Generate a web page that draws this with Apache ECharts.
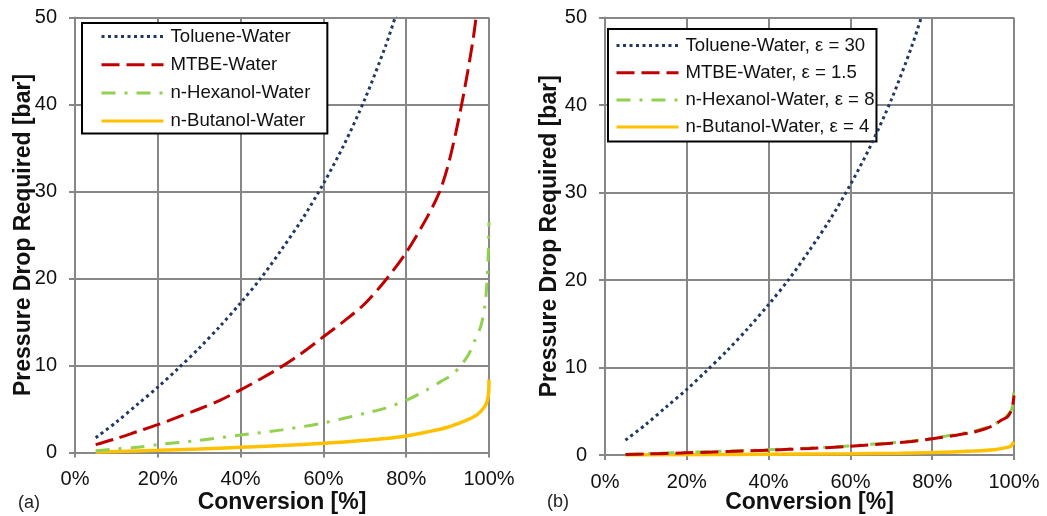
<!DOCTYPE html>
<html><head><meta charset="utf-8">
<script src="https://cdn.jsdelivr.net/npm/echarts@6/dist/echarts.min.js"></script>
<style>html,body{margin:0;padding:0;background:#fff}#c{width:1047px;height:516px}</style>
</head><body><div id="c"></div>
<script>
// ---- data (conversion in %, pressure drop in bar) ----
const xTickLabels = ['0%','20%','40%','60%','80%','100%'];
const yTickLabels = ['0','10','20','30','40','50'];

const namesA = ['Toluene-Water','MTBE-Water','n-Hexanol-Water','n-Butanol-Water'];
const namesB = ['Toluene-Water, \u03b5 = 30','MTBE-Water, \u03b5 = 1.5','n-Hexanol-Water, \u03b5 = 8','n-Butanol-Water, \u03b5 = 4'];

// panel (a)
const tolA_x = [5,10,15,20,25,30,35,40,45,50,55,60,65,70,75,78];
const tolA_y = [1.7,3.5,5.5,7.5,9.7,12.0,14.5,17.2,20.1,23.4,26.9,30.9,35.4,40.6,46.7,51.0];
const mtbeA_x = [5,10,15,20,25,30,35,40,45,50,55,60,65,70,75,80,85,88,90,92,94,96,97,98];
const mtbeA_y = [0.9,1.6,2.4,3.2,4.1,5.0,6.0,7.2,8.5,9.9,11.5,13.3,15.1,17.1,19.8,23.0,27.0,29.9,32.8,36.8,41.5,47.0,50.5,55.0];
const hexA_x = [5,10,15,20,30,40,50,60,70,75,80,85,88.5,91,93,95,96.5,98,99,99.5,99.8,100];
const hexA_y = [0.2,0.4,0.6,0.9,1.4,2.0,2.6,3.4,4.5,5.1,6.0,7.2,8.2,8.9,9.9,11.2,12.8,14.5,16.8,19.5,22.5,26.5];
const butA_x = [5,10,20,30,40,50,60,70,75,80,85,90,94,97,99,99.8,100];
const butA_y = [0.05,0.12,0.25,0.4,0.6,0.8,1.05,1.4,1.6,1.9,2.35,2.9,3.6,4.3,5.3,6.4,8.4];

// panel (b)
const tolB_x = [5,10,15,20,25,30,35,40,45,50,55,60,65,70,75,78];
const tolB_y = [1.7,3.5,5.5,7.5,9.7,12.0,14.5,17.2,20.1,23.4,26.9,30.9,35.4,40.6,46.7,51.0];
const mtbeB_x = [5,10,20,30,40,50,60,70,75,80,85,90,93,95,97,98.5,99.5,100];
const mtbeB_y = [0.05,0.12,0.25,0.4,0.55,0.75,1.0,1.35,1.55,1.85,2.2,2.6,3.0,3.4,4.0,4.4,5.3,6.8];
const hexB_x = [5,10,20,30,40,50,60,70,75,80,85,90,93,95,97,98.5,99.5,100];
const hexB_y = [0.05,0.15,0.3,0.45,0.6,0.8,1.05,1.4,1.6,1.9,2.3,2.7,3.1,3.5,4.0,4.6,5.3,7.8];
const butB_x = [5,20,40,60,72,80,90,95,99,100];
const butB_y = [0.0,0.03,0.08,0.13,0.2,0.28,0.45,0.6,0.95,1.5];

// ---- styling ----
const FONT = 'Liberation Sans, Arial, sans-serif';
const GRIDC = '#878787';
const styles = [
  {color:'#203864', type:[3,3.5], width:3},
  {color:'#C00000', type:[18,7], width:3},
  {color:'#92D050', type:[14,9,3,9], width:3},
  {color:'#FFC000', type:'solid', width:3.5}
];
const zip = (xs, ys) => xs.map((x, i) => [x, ys[i]]);

function xAxisFor(gi, gap){
  return {
    type:'value', gridIndex:gi, min:0, max:100, interval:20,
    axisLine:{show:true, lineStyle:{color:GRIDC, width:2}},
    axisTick:{show:true, length:5, lineStyle:{color:GRIDC, width:2}},
    splitLine:{show:true, lineStyle:{color:GRIDC, width:2}},
    axisLabel:{margin:17, color:'#111', fontSize:20, fontFamily:FONT,
      formatter:(v)=>xTickLabels[Math.round(v/20)]},
    name:'Conversion [%]', nameLocation:'middle', nameGap:gap, nameMoveOverlap:false,
    nameTextStyle:{fontSize:23, fontWeight:'bold', color:'#111', fontFamily:FONT}
  };
}
function yAxisFor(gi, gap){
  return {
    type:'value', gridIndex:gi, min:0, max:50, interval:10,
    axisLine:{show:true, lineStyle:{color:GRIDC, width:2}},
    axisTick:{show:true, length:6, lineStyle:{color:GRIDC, width:2}},
    splitLine:{show:true, lineStyle:{color:GRIDC, width:2}},
    axisLabel:{margin:18, color:'#111', fontSize:20, fontFamily:FONT,
      formatter:(v)=>yTickLabels[Math.round(v/10)]},
    name:'Pressure Drop Required [bar]', nameLocation:'middle', nameGap:gap, nameMoveOverlap:false,
    nameTextStyle:{fontSize:23, fontWeight:'bold', color:'#111', fontFamily:FONT}
  };
}
function mk(name, xs, ys, k, gi){
  return {
    name, type:'line', xAxisIndex:gi, yAxisIndex:gi, data:zip(xs, ys),
    showSymbol:false, symbol:'none', smooth:0.3, clip:true,
    lineStyle:{color:styles[k].color, type:styles[k].type, width:styles[k].width},
    itemStyle:{color:styles[k].color}, z: 3 + (3-k)
  };
}
const series = [
  mk(namesA[0], tolA_x, tolA_y, 0, 0),
  mk(namesA[1], mtbeA_x, mtbeA_y, 1, 0),
  mk(namesA[2], hexA_x, hexA_y, 2, 0),
  mk(namesA[3], butA_x, butA_y, 3, 0),
  mk(namesB[0], tolB_x, tolB_y, 0, 1),
  mk(namesB[1], mtbeB_x, mtbeB_y, 1, 1),
  mk(namesB[2], hexB_x, hexB_y, 2, 1),
  mk(namesB[3], butB_x, butB_y, 3, 1)
];

const legendText = {fontSize:18.6, color:'#111', fontFamily:FONT, padding:[0,0,0,2]};
const option = {
  animation:false,
  backgroundColor:'#fff',
  grid:[
    {left:75, right:558, top:17.5, bottom:63.5, outerBoundsMode:'none', containLabel:false},
    {left:605, right:33, top:17.5, bottom:61, outerBoundsMode:'none', containLabel:false}
  ],
  xAxis:[xAxisFor(0, 38.5), xAxisFor(1, 36)],
  yAxis:[yAxisFor(0, 40), yAxisFor(1, 44)],
  legend:[
    {data:namesA, orient:'vertical', left:82, top:23, padding:[4,17,3,18], itemGap:9.2,
     itemWidth:62, itemHeight:14, borderColor:'#000', borderWidth:2, backgroundColor:'#fff',
     itemStyle:{opacity:0}, lineStyle:{width:3}, textStyle:legendText, selectedMode:false},
    {data:namesB, orient:'vertical', left:608, top:29, padding:[7,2,5,7], itemGap:8.2,
     itemWidth:62, itemHeight:14, borderColor:'#000', borderWidth:2, backgroundColor:'#fff',
     itemStyle:{opacity:0}, lineStyle:{width:3}, textStyle:legendText, selectedMode:false}
  ],
  graphic:[
    {type:'text', left:18, top:494, style:{text:'(a)', fontSize:18, fill:'#222', fontFamily:FONT}},
    {type:'text', left:547, top:493, style:{text:'(b)', fontSize:18, fill:'#222', fontFamily:FONT}}
  ],
  series
};
const chart = echarts.init(document.getElementById('c'), null, {renderer:'canvas'});
chart.setOption(option);
</script></body></html>
